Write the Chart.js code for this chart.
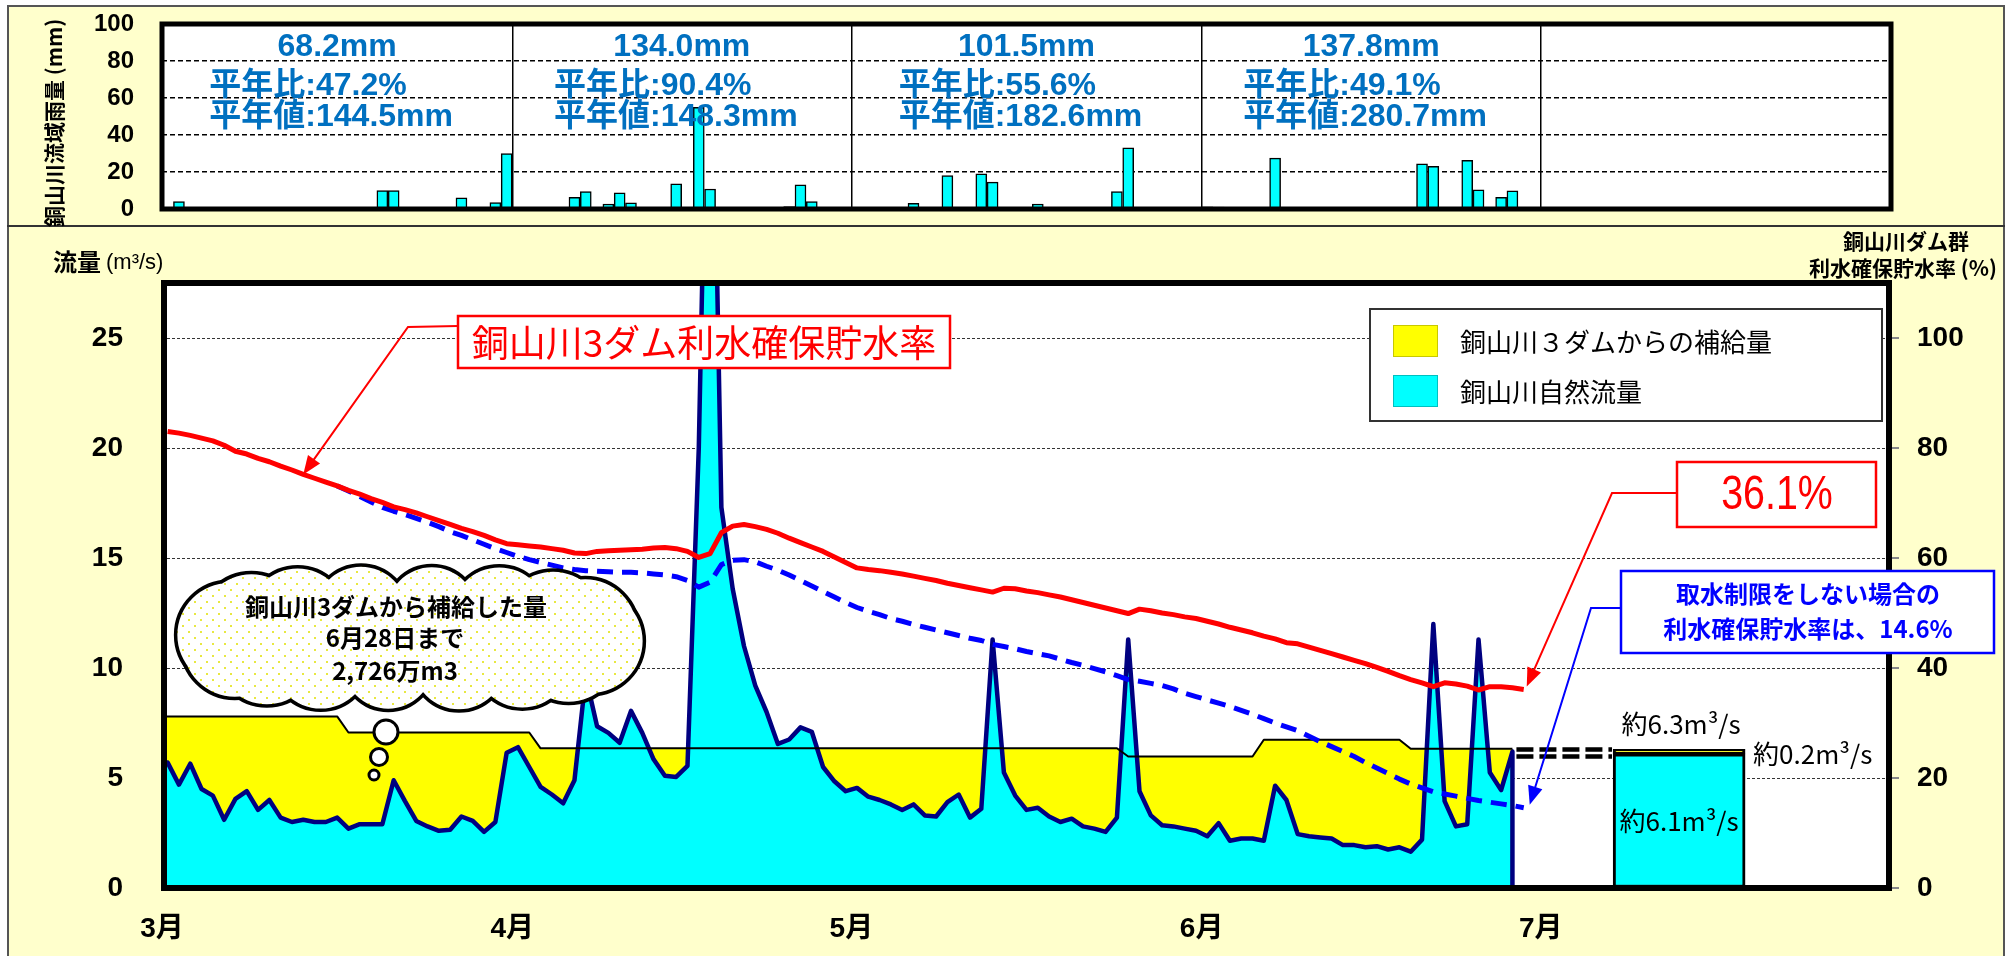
<!DOCTYPE html>
<html lang="ja">
<head>
<meta charset="utf-8">
<title>銅山川 流量・利水確保貯水率</title>
<script src="https://cdn.jsdelivr.net/npm/chart.js@4.4.1/dist/chart.umd.min.js"></script>
<style>
  html, body { margin: 0; padding: 0; background: #fff; }
  body { position: relative; width: 2008px; height: 956px; overflow: hidden; }
  #frame { position: absolute; left: 7px; top: 5px; width: 1998px; height: 990px; box-sizing: border-box; background: #ffffcc; border: 2px solid #555; }
  #split { position: absolute; left: 7px; top: 225px; width: 1998px; height: 2px; background: #333; }
  canvas { position: absolute; left: 0; }
  #rainChart { top: 0; width: 2008px; height: 227px; }
  #flowChart { top: 227px; width: 2008px; height: 729px; }
</style>
</head>
<body>
<div id="frame"></div>
<div id="split"></div>
<canvas id="rainChart" width="2008" height="227"></canvas>
<canvas id="flowChart" width="2008" height="729"></canvas>
<script>
// day index 0 = 3/1
const monthLabels = ["3月", "4月", "5月", "6月", "7月"];
const monthStarts = [0, 31, 61, 92, 122, 153];

// 銅山川流域雨量 (mm/day)
const rainMar = [0, 4, 0, 0, 0, 0, 0, 0, 0, 0,
                 0, 0, 0, 0, 0, 0, 0, 0, 0, 10,
                 10, 0, 0, 0, 0, 0, 6, 0, 0, 3.5,
                 30];
const rainApr = [0, 0, 0, 0, 0, 6.3, 9.4, 0, 2.7, 8.7,
                 3.3, 0, 0, 0, 13.6, 0, 55, 10.8, 0, 0,
                 0, 0, 0, 0, 1.3, 13, 4, 0, 0, 0];
const rainMay = [0, 0, 0, 0, 0, 3, 0, 0, 18, 0,
                 0, 19, 14.5, 0, 0, 0, 2.7, 0, 0, 0,
                 0, 0, 0, 9.4, 33, 0, 0, 0, 0, 0,
                 0];
const rainJun = [1.2, 1, 0, 0, 0, 0, 27.5, 0, 0, 0,
                 0, 0, 0, 0, 0, 0, 0, 0, 0, 24.4,
                 23.1, 0, 0, 26.3, 10.4, 0, 6.3, 9.8, 0, 0];

// monthly notes
const rainTotal = [68.2, 134.0, 101.5, 137.8];
const rainRatio = [47.2, 90.4, 55.6, 49.1];
const rainNormal = [144.5, 148.3, 182.6, 280.7];

// 銅山川自然流量 (m3/s), 3/1 - 6/28
const naturalFlow = [
  5.7, 4.7, 5.65, 4.5, 4.2, 3.1, 4.05, 4.4, 3.55, 4.0,
  3.2, 3.0, 3.1, 3.0, 3.0, 3.2, 2.7, 2.9, 2.9, 2.9,
  4.9, 3.95, 3.05, 2.8, 2.6, 2.65, 3.25, 3.05, 2.55, 3.0,
  6.15, 6.4, 5.5, 4.6, 4.25, 3.85, 4.9, 9.6, 7.35, 7.05,
  6.6, 8.05, 7.05, 5.85, 5.1, 5.05, 5.55, 20, 45, 17.3,
  13.6, 11.0, 9.2, 8.0, 6.55, 6.75, 7.3, 7.1, 5.5, 4.85,
  4.4, 4.55, 4.15, 4.0, 3.8, 3.55, 3.8, 3.3, 3.25, 3.9,
  4.25, 3.2, 3.6, 11.3, 5.25, 4.2, 3.55, 3.65, 3.25, 3.0,
  3.15, 2.8, 2.7, 2.55, 3.2, 11.3, 4.4, 3.3, 2.85, 2.8,
  2.7, 2.6, 2.35, 2.95, 2.15, 2.25, 2.25, 2.15, 4.65, 4.0,
  2.45, 2.35, 2.3, 2.25, 1.95, 1.95, 1.85, 1.9, 1.75, 1.85,
  1.65, 2.2, 12.0, 3.95, 2.8, 2.9, 11.3, 5.25, 4.45, 6.2
];

// natural flow + supply from the 3 dams (top of the yellow area)
const releaseLevel = [
  7.8, 7.8, 7.8, 7.8, 7.8, 7.8, 7.8, 7.8, 7.8, 7.8,
  7.8, 7.8, 7.8, 7.8, 7.8, 7.8, 7.07, 7.07, 7.07, 7.07,
  7.07, 7.07, 7.07, 7.07, 7.07, 7.07, 7.07, 7.07, 7.07, 7.07,
  7.07, 7.07, 7.07, 6.35, 6.35, 6.35, 6.35, 6.35, 6.35, 6.35,
  6.35, 6.35, 6.35, 6.35, 6.35, 6.35, 6.35, 6.35, 6.35, 6.35,
  6.35, 6.35, 6.35, 6.35, 6.35, 6.35, 6.35, 6.35, 6.35, 6.35,
  6.35, 6.35, 6.35, 6.35, 6.35, 6.35, 6.35, 6.35, 6.35, 6.35,
  6.35, 6.35, 6.35, 6.35, 6.35, 6.35, 6.35, 6.35, 6.35, 6.35,
  6.35, 6.35, 6.35, 6.35, 6.35, 5.98, 5.98, 5.98, 5.98, 5.98,
  5.98, 5.98, 5.98, 5.98, 5.98, 5.98, 5.98, 6.74, 6.74, 6.74,
  6.74, 6.74, 6.74, 6.74, 6.74, 6.74, 6.74, 6.74, 6.74, 6.74,
  6.33, 6.33, 6.33, 6.33, 6.33, 6.33, 6.33, 6.33, 6.33, 6.33
];

// 銅山川3ダム利水確保貯水率 (%), 3/1 - 6/29
const storageRate = [
  83.0, 82.7, 82.3, 81.8, 81.3, 80.5, 79.4, 78.9, 78.1, 77.5,
  76.7, 76.0, 75.2, 74.5, 73.8, 73.1, 72.3, 71.6, 70.8, 70.1,
  69.3, 68.8, 68.2, 67.5, 66.8, 66.1, 65.4, 64.8, 64.1, 63.3,
  62.6, 62.4, 62.2, 62.0, 61.7, 61.4, 60.9, 60.8, 61.2, 61.3,
  61.4, 61.5, 61.6, 61.8, 61.9, 61.7, 61.2, 60.1, 60.8, 64.6,
  65.8, 66.1, 65.7, 65.2, 64.5, 63.6, 62.8, 62.0, 61.2, 60.2,
  59.2, 58.2, 57.9, 57.7, 57.4, 57.1, 56.7, 56.3, 55.9, 55.4,
  55.0, 54.6, 54.2, 53.8, 54.5, 54.4, 54.0, 53.7, 53.3, 52.9,
  52.4, 51.9, 51.4, 50.9, 50.4, 49.9, 50.7, 50.4, 50.0, 49.7,
  49.3, 49.0, 48.5, 48.0, 47.4, 46.9, 46.4, 45.8, 45.3, 44.6,
  44.4, 43.8, 43.2, 42.6, 42.0, 41.4, 40.8, 40.1, 39.4, 38.6,
  37.9, 37.3, 36.6, 37.3, 37.1, 36.7, 36.0, 36.6, 36.6, 36.4,
  36.1
];

// 取水制限をしない場合の利水確保貯水率 (%), from 3/16
const noLimitStart = 15;
const noLimitRate = [
  73.1, 72.2, 71.2, 70.2, 69.2,
  68.5, 67.9, 67.2, 66.5, 65.7, 64.8, 64.1, 63.3, 62.5, 61.7,
  61.0, 60.3, 59.7, 59.2, 58.7, 58.2, 57.9, 57.7, 57.6, 57.5,
  57.4, 57.4, 57.3, 57.1, 56.9, 56.6, 55.9, 54.7, 55.6, 58.8,
  59.6, 59.7, 59.3, 58.5, 57.8, 56.9, 55.9, 54.9, 53.9, 52.9,
  51.9, 51.0, 50.3, 49.7, 49.0, 48.5, 47.9, 47.4, 46.9, 46.4,
  45.9, 45.4, 45.0, 44.3, 43.9, 43.5, 43.0, 42.6, 42.2, 41.6,
  41.0, 40.5, 39.9, 39.3, 38.6, 37.9, 37.6, 37.2, 36.8, 36.2,
  35.4, 34.8, 34.2, 33.6, 33.0, 32.3, 31.6, 30.8, 30.0, 29.3,
  28.6, 27.6, 26.6, 25.7, 24.8, 23.9, 22.8, 21.8, 20.8, 19.8,
  18.9, 18.2, 17.5, 17.1, 16.7, 16.3, 15.9, 15.6, 15.3, 15.0,
  14.6
];

// July outlook bar
const outlookFrom = 128.4;
const outlookTo = 140.1;
const outlookNatural = 6.1;
const outlookSupply = 0.2;

const rainTicks = [0, 20, 40, 60, 80, 100];
const flowTicks = [0, 5, 10, 15, 20, 25];
const rateTicks = [0, 20, 40, 60, 80, 100];

const supplyLabel = "銅山川３ダムからの補給量";
const naturalLabel = "銅山川自然流量";
const storageLabel = "銅山川3ダム利水確保貯水率";
const cloudText = ["銅山川3ダムから補給した量", "6月28日まで", "2,726万m3"];

// ---------------------------------------------------------------
const NUM_FONT = "'Liberation Sans Narrow', 'Liberation Sans', sans-serif";
const NOTE_FONT = "'Liberation Sans', 'Noto Sans CJK JP', sans-serif";
const JP_FONT = "'Noto Sans CJK JP', sans-serif";
const PLOT_W = 1891 - 162;
const NO_COLOR = "rgba(0,0,0,0)";

Chart.defaults.font.family = NUM_FONT;
Chart.defaults.color = "#000";

const dayX = i => i + 0.5; // daily values sit in the middle of their day
const toPoints = (arr, start = 0) => arr.map((v, i) => ({ x: dayX(start + i), y: v }));

function fillPlot(chart) {
  const { ctx, chartArea: a } = chart;
  ctx.save();
  ctx.fillStyle = "#fff";
  ctx.fillRect(a.left, a.top, a.right - a.left, a.bottom - a.top);
  ctx.restore();
}

// ---------------- rain chart -----------------
const rainDaily = rainMar.concat(rainApr, rainMay, rainJun);
const rainPoints = rainDaily.map((v, i) => ({ x: dayX(i), y: v })).filter(p => p.y > 0);

const rainDecor = {
  id: "rainDecor",
  beforeDraw: fillPlot,
  afterDraw(chart) {
    const { ctx, chartArea: a, scales: { x } } = chart;
    ctx.save();
    ctx.fillStyle = "#0070c0";
    ctx.textBaseline = "middle";
    ctx.font = "bold 32px " + NOTE_FONT;
    rainTotal.forEach((t, i) => {
      const cx = (x.getPixelForValue(monthStarts[i]) + x.getPixelForValue(monthStarts[i + 1])) / 2;
      ctx.textAlign = "center";
      ctx.fillText(t.toFixed(1) + "mm", cx, 47);
      const l2 = "平年比:" + rainRatio[i].toFixed(1) + "%";
      const l3 = "平年値:" + rainNormal[i].toFixed(1) + "mm";
      const left = cx - ctx.measureText(l3).width / 2 - 6;
      ctx.textAlign = "left";
      ctx.fillText(l2, left, 86);
      ctx.fillText(l3, left, 117);
    });
    ctx.strokeStyle = "#000";
    ctx.lineWidth = 5;
    ctx.strokeRect(a.left, a.top, a.right - a.left, a.bottom - a.top);
    ctx.translate(54, 123);
    ctx.rotate(-Math.PI / 2);
    ctx.fillStyle = "#000";
    ctx.textAlign = "center";
    ctx.font = "bold 21px " + JP_FONT;
    ctx.fillText("銅山川流域雨量 (mm)", 0, 0);
    ctx.restore();
  }
};

new Chart(document.getElementById("rainChart"), {
  type: "bar",
  data: {
    datasets: [{
      data: rainPoints,
      backgroundColor: "#00ffff",
      borderColor: "#000",
      borderWidth: 1.5,
      barThickness: 11,
      grouped: false
    }]
  },
  options: {
    responsive: false,
    animation: false,
    devicePixelRatio: 1,
    events: [],
    layout: { padding: { left: 0, right: 117, top: 24, bottom: 18 } },
    plugins: { legend: { display: false }, tooltip: { enabled: false } },
    scales: {
      x: {
        type: "linear", min: 0, max: 153, offset: false,
        afterBuildTicks: s => { s.ticks = monthStarts.map(v => ({ value: v })); },
        afterFit: s => { s.height = 0; },
        ticks: { display: false },
        grid: {
          offset: false, drawTicks: false, lineWidth: 1.5,
          color: c => (c.tick && (c.tick.value === 0 || c.tick.value === 153)) ? NO_COLOR : "#000"
        },
        border: { display: false }
      },
      y: {
        min: 0, max: 100,
        afterBuildTicks: s => { s.ticks = rainTicks.map(v => ({ value: v })); },
        afterFit: s => { s.width = 162; },
        // label gap is made with an invisible tick mark, ticks.padding would also pad the top
        ticks: { padding: 2, font: { size: 24, weight: "bold" } },
        grid: {
          drawTicks: true, tickLength: 26, tickColor: NO_COLOR, lineWidth: 1.5,
          color: c => (c.tick.value === 0 || c.tick.value === 100) ? NO_COLOR : "#000"
        },
        border: { display: false, dash: [5, 3] }
      }
    }
  },
  plugins: [rainDecor]
});

// ---------------- flow chart -----------------
const lastFlowX = dayX(naturalFlow.length - 1);
const flowArea = [{ x: 0, y: naturalFlow[0] }, ...toPoints(naturalFlow), { x: lastFlowX, y: 0 }];
const levelLine = [{ x: 0, y: releaseLevel[0] }, ...toPoints(releaseLevel)];
const outlookDay = (outlookFrom + outlookTo) / 2;
const outlookBarPx = Math.round((outlookTo - outlookFrom) * PLOT_W / 153);
const outlookTotal = outlookNatural + outlookSupply;

function dotPattern(ctx) {
  const c = document.createElement("canvas");
  c.width = 12; c.height = 12;
  const p = c.getContext("2d");
  p.fillStyle = "#fff";
  p.fillRect(0, 0, 12, 12);
  p.fillStyle = "#e8e840";
  p.fillRect(2, 2, 2, 2);
  p.fillRect(8, 8, 2, 2);
  return ctx.createPattern(c, "repeat");
}

function drawCloud(ctx, cx, cy) {
  const bumps = [];
  const n = 16;
  for (let k = 0; k < n; k++) {
    const t = (k / n) * Math.PI * 2 + 0.12;
    bumps.push([cx + 182 * Math.cos(t), cy + 26 * Math.sin(t), 44 + 8 * Math.abs(Math.cos(t))]);
  }
  ctx.save();
  ctx.strokeStyle = "#000";
  ctx.lineWidth = 7;
  bumps.forEach(([x, y, r]) => { ctx.beginPath(); ctx.arc(x, y, r, 0, Math.PI * 2); ctx.stroke(); });
  ctx.fillStyle = dotPattern(ctx);
  ctx.beginPath();
  bumps.forEach(([x, y, r]) => { ctx.moveTo(x + r, y); ctx.arc(x, y, r, 0, Math.PI * 2); });
  ctx.moveTo(cx + 182, cy);
  ctx.ellipse(cx, cy, 182, 30, 0, 0, Math.PI * 2);
  ctx.fill();
  // thought bubbles
  ctx.lineWidth = 3;
  [[386, 505, 12], [379, 530, 8.5], [374, 548, 5]].forEach(([x, y, r]) => {
    ctx.beginPath();
    ctx.arc(x, y, r, 0, Math.PI * 2);
    ctx.fillStyle = "#fff";
    ctx.fill();
    ctx.stroke();
  });
  ctx.fillStyle = "#000";
  ctx.textAlign = "center";
  ctx.textBaseline = "middle";
  ctx.font = "bold 24px " + JP_FONT;
  ctx.fillText(cloudText[0], 396, 380);
  ctx.fillText(cloudText[1], 395, 411);
  ctx.fillText(cloudText[2], 395, 444);
  ctx.restore();
}

function arrowLine(ctx, pts, color, width, head) {
  const n = pts.length;
  const [x1, y1] = pts[n - 2];
  const [x2, y2] = pts[n - 1];
  const ang = Math.atan2(y2 - y1, x2 - x1);
  ctx.strokeStyle = color;
  ctx.fillStyle = color;
  ctx.lineWidth = width;
  ctx.setLineDash([]);
  ctx.beginPath();
  ctx.moveTo(pts[0][0], pts[0][1]);
  for (let i = 1; i < n - 1; i++) ctx.lineTo(pts[i][0], pts[i][1]);
  ctx.lineTo(x2 - Math.cos(ang) * head * 0.8, y2 - Math.sin(ang) * head * 0.8);
  ctx.stroke();
  ctx.beginPath();
  ctx.moveTo(x2, y2);
  ctx.lineTo(x2 - head * Math.cos(ang - 0.38), y2 - head * Math.sin(ang - 0.38));
  ctx.lineTo(x2 - head * Math.cos(ang + 0.38), y2 - head * Math.sin(ang + 0.38));
  ctx.closePath();
  ctx.fill();
}

function box(ctx, x, y, w, h, stroke, lw) {
  ctx.fillStyle = "#fff";
  ctx.fillRect(x, y, w, h);
  ctx.strokeStyle = stroke;
  ctx.lineWidth = lw;
  ctx.setLineDash([]);
  ctx.strokeRect(x, y, w, h);
}

const flowDecor = {
  id: "flowDecor",
  beforeDraw: fillPlot,
  afterDraw(chart) {
    const { ctx, chartArea: a, scales: { x, y, y2 } } = chart;
    const px = d => x.getPixelForValue(d);
    ctx.save();

    // double dashed connector to the July bar
    const yTop = y.getPixelForValue(outlookTotal);
    ctx.strokeStyle = "#000";
    ctx.lineWidth = 4.5;
    ctx.setLineDash([17, 6]);
    [yTop, yTop + 7].forEach(yy => {
      ctx.beginPath();
      ctx.moveTo(px(lastFlowX) + 4, yy);
      ctx.lineTo(px(outlookFrom) - 1, yy);
      ctx.stroke();
    });
    ctx.setLineDash([]);

    // frame
    ctx.lineWidth = 6;
    ctx.strokeRect(a.left + 2, a.top, a.right - a.left - 4, a.bottom - a.top);

    // axis titles
    ctx.fillStyle = "#000";
    ctx.textBaseline = "middle";
    ctx.textAlign = "left";
    ctx.font = "bold 24px " + JP_FONT;
    ctx.fillText("流量", 53, 35);
    const w = ctx.measureText("流量").width;
    ctx.font = "22px " + NUM_FONT;
    ctx.fillText("(m³/s)", 53 + w + 5, 36);
    ctx.textAlign = "center";
    ctx.font = "bold 21px " + JP_FONT;
    ctx.fillText("銅山川ダム群", 1906, 14);
    ctx.fillText("利水確保貯水率 (%)", 1903, 41);

    // cloud callout
    drawCloud(ctx, 410, 411);

    // legend
    box(ctx, 1370, 82, 512, 112, "#333", 2);
    [[supplyLabel, "#ffff00", "#c8c800"], [naturalLabel, "#00ffff", "#00c0c0"]].forEach(([label, fill, edge], i) => {
      const yy = 98 + i * 50;
      ctx.fillStyle = fill;
      ctx.fillRect(1393, yy, 45, 32);
      ctx.strokeStyle = edge;
      ctx.lineWidth = 1;
      ctx.strokeRect(1393.5, yy + 0.5, 44, 31);
      ctx.fillStyle = "#000";
      ctx.textAlign = "left";
      ctx.font = "26px " + JP_FONT;
      ctx.fillText(label, 1460, yy + 17);
    });

    // storage rate label
    const redTip = [px(dayX(12)), y2.getPixelForValue(storageRate[12])];
    arrowLine(ctx, [[458, 99], [408, 100], redTip], "#ff0000", 2, 20);
    box(ctx, 458, 89, 492, 52, "#ff0000", 2.5);
    ctx.fillStyle = "#ff0000";
    ctx.textAlign = "center";
    ctx.font = "37px " + JP_FONT;
    ctx.fillText(storageLabel, 704, 116);

    // last storage value
    const lastRed = storageRate.length - 1;
    const endTip = [px(dayX(lastRed)) + 3, y2.getPixelForValue(storageRate[lastRed]) - 3];
    arrowLine(ctx, [[1677, 266], [1612, 266], endTip], "#ff0000", 2, 20);
    box(ctx, 1677, 235, 199, 65, "#ff0000", 2.5);
    ctx.save();
    ctx.translate(1777, 269);
    ctx.scale(0.82, 1);
    ctx.fillStyle = "#ff0000";
    ctx.font = "48px " + NUM_FONT;
    ctx.fillText(storageRate[lastRed].toFixed(1) + "%", 0, 0);
    ctx.restore();

    // no-limit case
    const lastBlue = noLimitRate.length - 1;
    const blueTip = [px(dayX(noLimitStart + lastBlue)) + 6, y2.getPixelForValue(noLimitRate[lastBlue]) - 3];
    arrowLine(ctx, [[1621, 381], [1591, 381], blueTip], "#0000ff", 2, 20);
    box(ctx, 1621, 344, 373, 82, "#0000ff", 2.5);
    ctx.fillStyle = "#0000ff";
    ctx.textAlign = "center";
    ctx.font = "bold 24px " + JP_FONT;
    ctx.fillText("取水制限をしない場合の", 1808, 367);
    ctx.fillText("利水確保貯水率は、" + noLimitRate[lastBlue].toFixed(1) + "%", 1808, 402);

    // July bar labels
    const bx = px(outlookDay);
    ctx.fillStyle = "#000";
    ctx.font = "26px " + JP_FONT;
    ctx.fillText("約" + outlookTotal.toFixed(1) + "m³/s", bx + 2, yTop - 25);
    ctx.fillText("約" + outlookNatural.toFixed(1) + "m³/s", bx, (y.getPixelForValue(0) + y.getPixelForValue(outlookNatural)) / 2);
    ctx.textAlign = "left";
    ctx.fillText("約" + outlookSupply.toFixed(1) + "m³/s", bx + outlookBarPx / 2 + 8, yTop + 5);

    ctx.restore();
  }
};

new Chart(document.getElementById("flowChart"), {
  type: "line",
  data: {
    datasets: [
      { label: storageLabel, data: toPoints(storageRate), yAxisID: "y2",
        borderColor: "#ff0000", borderWidth: 5, order: 1 },
      { label: "取水制限をしない場合", data: toPoints(noLimitRate, noLimitStart), yAxisID: "y2",
        borderColor: "#0000ff", borderWidth: 5, borderDash: [16, 9], borderCapStyle: "butt", order: 2 },
      { label: "level", data: levelLine, borderColor: "#000", borderWidth: 2, order: 3 },
      { label: naturalLabel, data: flowArea, borderColor: "#000080", borderWidth: 4.5,
        backgroundColor: "#00ffff", fill: "origin", order: 4 },
      { label: supplyLabel, data: levelLine, borderColor: NO_COLOR, borderWidth: 1,
        backgroundColor: "#ffff00", fill: "origin", order: 5 },
      { type: "bar", label: "7月 自然流量", data: [{ x: outlookDay, y: [0, outlookNatural] }],
        backgroundColor: "#00ffff", borderColor: "#000", borderWidth: 3, borderSkipped: false,
        barThickness: outlookBarPx, grouped: false, order: 6 },
      { type: "bar", label: "7月 補給量", data: [{ x: outlookDay, y: [outlookNatural, outlookTotal] }],
        backgroundColor: "#ffff00", borderColor: "#000", borderWidth: 3, borderSkipped: false,
        barThickness: outlookBarPx, grouped: false, order: 7 }
    ]
  },
  options: {
    responsive: false,
    animation: false,
    devicePixelRatio: 1,
    events: [],
    layout: { padding: { left: 0, right: 0, top: 56, bottom: 0 } },
    elements: {
      point: { radius: 0 },
      line: { tension: 0, borderJoinStyle: "round" }
    },
    plugins: { legend: { display: false }, tooltip: { enabled: false } },
    scales: {
      x: {
        type: "linear", min: 0, max: 153, offset: false,
        afterBuildTicks: s => { s.ticks = monthStarts.slice(0, 5).map(v => ({ value: v })); },
        afterFit: s => { s.height = 68; },
        ticks: {
          padding: 24, autoSkip: false, maxRotation: 0,
          font: { family: "'Liberation Sans Narrow', 'Liberation Sans', 'Noto Sans CJK JP'", size: 28, weight: "bold" },
          callback: (v, i) => monthLabels[i]
        },
        grid: { display: false, drawTicks: false },
        border: { display: false }
      },
      y: {
        min: 0, max: 27.5,
        afterBuildTicks: s => { s.ticks = flowTicks.map(v => ({ value: v })); },
        afterFit: s => { s.width = 162; },
        ticks: { padding: 4, font: { size: 28, weight: "bold" } },
        grid: {
          drawTicks: true, tickLength: 35, tickColor: NO_COLOR, lineWidth: 1,
          color: c => c.tick.value === 0 ? NO_COLOR : "#333"
        },
        border: { display: false, dash: [3, 2] }
      },
      y2: {
        position: "right", min: 0, max: 110,
        afterBuildTicks: s => { s.ticks = rateTicks.map(v => ({ value: v })); },
        afterFit: s => { s.width = 117; },
        ticks: { padding: 18, font: { size: 28, weight: "bold" } },
        grid: { drawOnChartArea: false, drawTicks: true, tickLength: 8, color: "#888", lineWidth: 2 },
        border: { display: false }
      }
    }
  },
  plugins: [flowDecor]
});
</script>
</body>
</html>
